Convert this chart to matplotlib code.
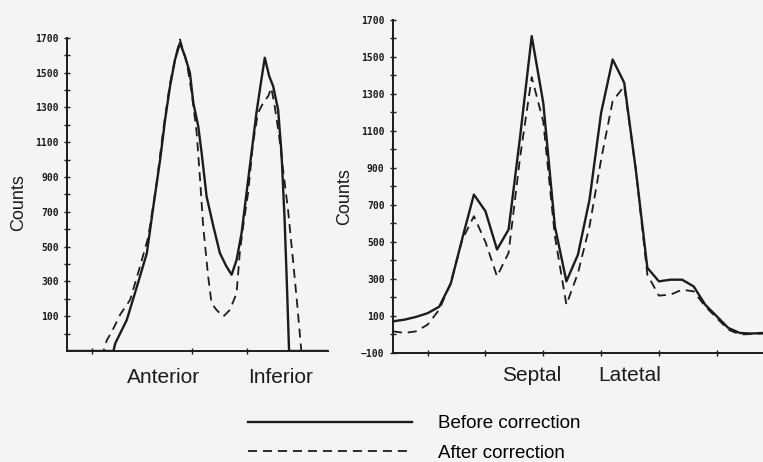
import matplotlib.pyplot as plt
from matplotlib.lines import Line2D
import matplotlib.transforms as mtransforms
import numpy as np

# left panel (anterior / inferior), x in arbitrary position units 0-100
left_x_before = [0, 17.8, 18.5, 22.9, 26.8, 30.6, 33.1, 35.7, 37.6, 39.5, 41.4, 43.3,
                 45.2, 47.1, 48.4, 50.3, 51.6, 53.5, 56.1, 58.6, 61.1, 63.1, 65.0,
                 66.9, 68.8, 70.7, 72.6, 74.5, 75.8, 77.5, 79.0, 80.9, 82.2, 83.4,
                 84.3, 85.1, 100]
left_before = [-100, -100, -56, 78, 270, 462, 731, 1000, 1230, 1422, 1575, 1671,
               1594, 1499, 1326, 1191, 1038, 788, 616, 462, 386, 338, 424,
               577, 808, 1038, 1268, 1460, 1585, 1479, 1422, 1287, 1038, 654,
               270, -100, -100]

left_x_after = [0, 14.0, 15.3, 17.2, 20.4, 24.2, 28.0, 31.2, 34.4, 36.9, 39.5, 42.0,
                43.3, 45.9, 47.8, 49.7, 51.0, 52.2, 54.1, 55.4, 57.3, 59.9, 62.4,
                65.0, 66.2, 67.5, 69.4, 71.3, 73.2, 75.2, 77.1, 78.3, 79.6, 81.3,
                82.8, 84.7, 86.6, 88.3, 89.8, 100]
left_after = [-100, -100, -37, 11, 110, 194, 386, 558, 870, 1172, 1441, 1614,
              1690, 1556, 1383, 1153, 884, 616, 328, 174, 136, 98, 136,
              232, 462, 616, 808, 1096, 1268, 1326, 1364, 1412, 1307, 1134,
              942, 712, 424, 155, -100, -100]

left_xticks = [9.7, 47.9, 68.9]
left_labels = ['Anterior', 'Inferior']
left_label_x = [37.0, 81.9]

# right panel (septal / lateral), 33 samples
right_samples = np.arange(33)
right_before = [71, 80, 95, 115, 150, 275, 520, 756, 666, 459, 567, 1071, 1612,
                1251, 585, 287, 432, 729, 1197, 1486, 1360, 891, 360, 287, 296,
                296, 260, 161, 98, 35, 8, 5, 8]
right_after = [17, 8, 17, 53, 134, 278, 513, 639, 500, 314, 441, 960, 1390,
               1150, 531, 161, 332, 585, 945, 1261, 1342, 891, 323, 210, 215,
               242, 233, 152, 89, 26, 0, 2, 5]

right_xticks = [3, 8, 13, 18, 23, 28]
right_labels = ['Septal', 'Latetal']
right_label_x = [12.0, 20.5]

bg = '#f4f4f2'
ink = '#1c1c1c'

fig = plt.figure(figsize=(7.63, 4.62), dpi=100, facecolor=bg)
ax1 = fig.add_axes([0.0878, 0.2403, 0.342, 0.678])
ax2 = fig.add_axes([0.515, 0.236, 0.485, 0.721])

dash = (5, 3.3)
for ax in (ax1, ax2):
    ax.set_facecolor(bg)
    for s in ('top', 'right'):
        ax.spines[s].set_visible(False)
    for s in ('left', 'bottom'):
        ax.spines[s].set_linewidth(1.4)
        ax.spines[s].set_color(ink)
    ax.set_ylim(-100, 1700)
    ax.set_yticks(np.arange(0, 1700, 200), minor=True)
    ax.tick_params(which='both', direction='inout', length=5, width=1, colors=ink)
    ax.set_ylabel('Counts', fontsize=13, family='Liberation Sans', color=ink)

ax1.plot(left_x_before, left_before, color=ink, lw=1.7)
ax1.plot(left_x_after, left_after, color=ink, lw=1.3, dashes=dash)
ax1.set_xlim(0, 100)
ax1.set_yticks(np.arange(100, 1701, 200))
ax1.set_xticks(left_xticks)
ax1.set_xticklabels([])
ax1.yaxis.set_label_coords(-0.151, 0.473)

ax2.plot(right_samples, right_before, color=ink, lw=1.7)
ax2.plot(right_samples, right_after, color=ink, lw=1.3, dashes=dash)
ax2.set_xlim(0, 32)
ax2.set_yticks(np.arange(-100, 1701, 200))
ax2.set_xticks(right_xticks)
ax2.set_xticklabels([])
ax2.yaxis.set_label_coords(-0.108, 0.471)

for ax in (ax1, ax2):
    ax.set_yticklabels([str(v).replace('-', '\u2212') for v in ax.get_yticks()],
                       family='DejaVu Sans Mono', fontweight='bold', fontsize=7)

tr1 = mtransforms.blended_transform_factory(ax1.transData, ax1.transAxes)
for name, xp in zip(left_labels, left_label_x):
    ax1.text(xp, -0.102, name, transform=tr1, ha='center', va='baseline',
             fontsize=15, family='Liberation Sans', color=ink)
tr2 = mtransforms.blended_transform_factory(ax2.transData, ax2.transAxes)
for name, xp in zip(right_labels, right_label_x):
    ax2.text(xp, -0.084, name, transform=tr2, ha='center', va='baseline',
             fontsize=15, family='Liberation Sans', color=ink)

handles = [Line2D([], [], color=ink, lw=1.7),
           Line2D([], [], color=ink, lw=1.3, dashes=dash)]
fig.legend(handles, ['Before correction', 'After correction'],
           loc='center left', bbox_to_anchor=(0.325, 0.0509), frameon=False,
           borderpad=0, borderaxespad=0, handlelength=8.75, handletextpad=1.4,
           labelspacing=0.65, prop={'family': 'Liberation Sans', 'size': 13.5})

fig.savefig('out.png', dpi=100, facecolor=bg)
plt.close(fig)
